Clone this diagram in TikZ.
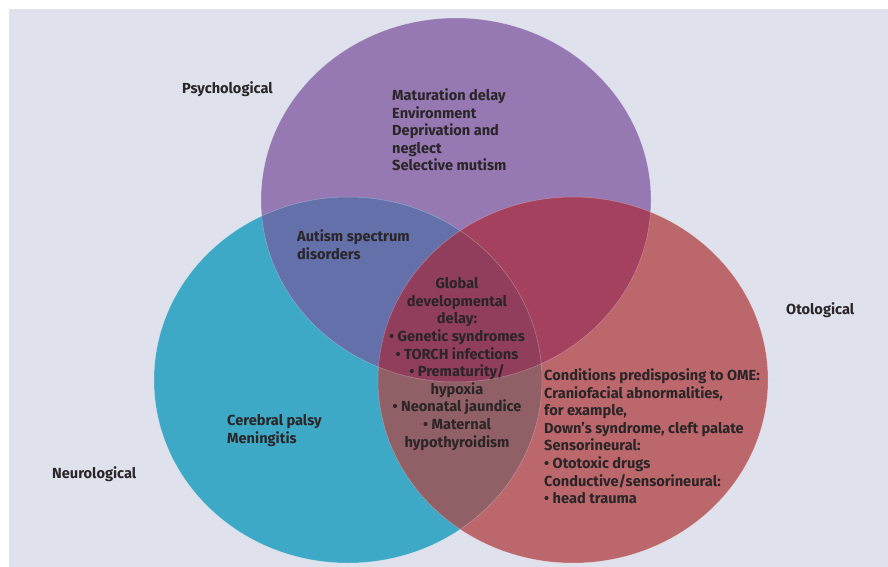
\documentclass[tikz,border=0pt]{standalone}
\usepackage{fontspec}
\setmainfont{Fira Sans}
\definecolor{bgc}{HTML}{DFE2ED}
\definecolor{purc}{HTML}{9679B3}
\definecolor{tealc}{HTML}{3EA8C7}
\definecolor{redc}{HTML}{BB676B}
\definecolor{ptc}{HTML}{6470AA}
\definecolor{prc}{HTML}{A4415F}
\definecolor{trc}{HTML}{915F66}
\definecolor{ptrc}{HTML}{913E5C}
\definecolor{txtc}{HTML}{2A2527}
\tikzset{
  lbl/.style={inner sep=0pt, text=txtc, font=\bfseries\fontsize{14.6}{17.6}\selectfont},
  blockl/.style={lbl, align=left, anchor=north west},
  blockc/.style={lbl, align=center, anchor=north},
  rim/.style={draw=white, draw opacity=0.3, line width=0.5pt}
}
\begin{document}
\begin{tikzpicture}[x=1pt,y=-1pt]
\useasboundingbox (0,0) rectangle (888,567);
\fill[white] (0,0) rectangle (888,567);
\fill[bgc] (9,9) rectangle (888,567);
\def\purE{(456,200) ellipse [x radius=195, y radius=182]}
\def\tealE{(348,380) ellipse [x radius=194, y radius=183]}
\def\redE{(573,380) ellipse [x radius=195, y radius=183]}
\fill[purc] \purE;
\fill[tealc] \tealE;
\fill[redc] \redE;
\begin{scope}
  \clip \purE;
  \fill[ptc] \tealE;
  \fill[prc] \redE;
\end{scope}
\begin{scope}
  \clip \tealE;
  \fill[trc] \redE;
  \clip \purE;
  \fill[ptrc] \redE;
\end{scope}
\draw[rim] \purE;
\draw[rim] \tealE;
\draw[rim] \redE;
\node[lbl, anchor=west] (psy) at (182,89) {Psychological};
\node[lbl, anchor=west] (neu) at (52,474) {Neurological};
\node[lbl, anchor=west] (oto) at (786,310) {Otological};
\node[blockl] (mat) at (392,88.5) {Maturation delay\\Environment\\Deprivation and\\neglect\\Selective mutism};
\node[blockl] (aut) at (297,229.5) {Autism spectrum\\disorders};
\node[blockc] (glo) at (457,277.5) {Global\\developmental\\delay:\\\textbullet\ Genetic syndromes\\\textbullet\ TORCH infections\\\textbullet\ Prematurity/\\hypoxia\\\textbullet\ Neonatal jaundice\\\textbullet\ Maternal\\hypothyroidism};
\node[blockl] (cer) at (227,414.5) {Cerebral palsy\\Meningitis};
\node[blockl] (con) at (544,368.5) {Conditions predisposing to OME:\\Craniofacial abnormalities,\\for example,\\Down's syndrome, cleft palate\\Sensorineural:\\\textbullet\ Ototoxic drugs\\Conductive/sensorineural:\\\textbullet\ head trauma};
\end{tikzpicture}
\end{document}
